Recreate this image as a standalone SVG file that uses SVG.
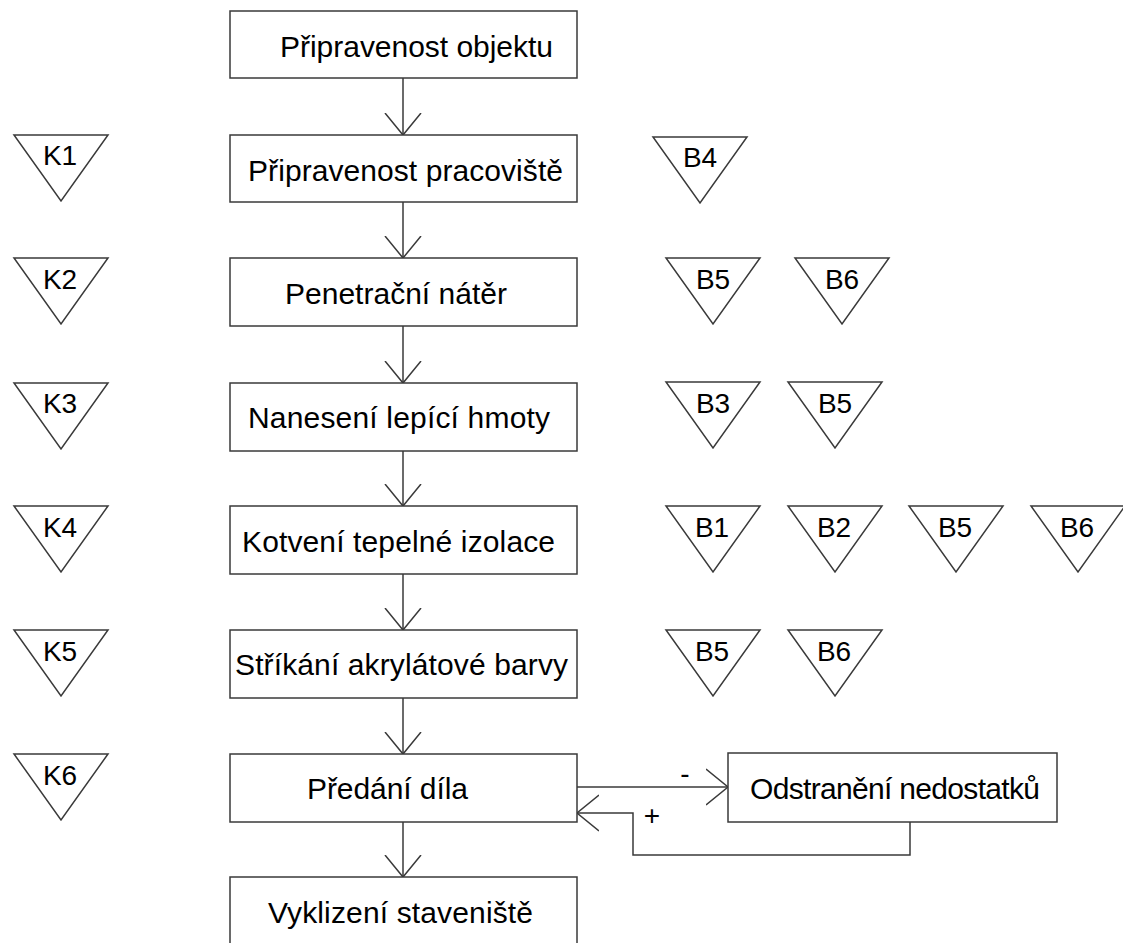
<svg xmlns="http://www.w3.org/2000/svg" width="1123" height="943" viewBox="0 0 1123 943">
  <style>
    .box { fill: #ffffff; stroke: #3a3a3a; stroke-width: 1.5; }
    .tri { fill: #ffffff; stroke: #3a3a3a; stroke-width: 1.5; stroke-linejoin: miter; }
    .lbl { font-family: "Liberation Sans", Arial, sans-serif; font-size: 30px; fill: #000000; text-anchor: middle; }
    .tag { font-family: "Liberation Sans", Arial, sans-serif; font-size: 28px; fill: #000000; text-anchor: middle; }
    .sign { font-family: "Liberation Sans", Arial, sans-serif; font-size: 28px; fill: #000000; text-anchor: middle; }
    .edge { fill: none; stroke: #3a3a3a; stroke-width: 1.5; }
  </style>
  <defs>
    <marker id="open" viewBox="-22 -20 24 40" markerWidth="24" markerHeight="40" refX="0" refY="0" orient="auto" markerUnits="userSpaceOnUse">
      <path d="M -22 -18 L 0 0 L -22 18" fill="none" stroke="#3a3a3a" stroke-width="1.5"/>
    </marker>
    <polygon id="triangle" points="0,0 94,0 47,66"/>
  </defs>

  <rect width="1123" height="943" fill="#ffffff"/>

  <!-- flow connectors -->
  <g id="connectors">
    <line class="edge" x1="403" y1="78" x2="403" y2="135" marker-end="url(#open)"/>
    <line class="edge" x1="403" y1="202" x2="403" y2="258" marker-end="url(#open)"/>
    <line class="edge" x1="403" y1="326" x2="403" y2="383" marker-end="url(#open)"/>
    <line class="edge" x1="403" y1="451" x2="403" y2="506" marker-end="url(#open)"/>
    <line class="edge" x1="403" y1="574" x2="403" y2="630" marker-end="url(#open)"/>
    <line class="edge" x1="403" y1="698" x2="403" y2="754" marker-end="url(#open)"/>
    <line class="edge" x1="403" y1="822" x2="403" y2="877" marker-end="url(#open)"/>
    <line class="edge" x1="577" y1="787" x2="728" y2="787" marker-end="url(#open)"/>
    <polyline class="edge" points="910,822 910,855 633,855 633,813 577,813" marker-end="url(#open)"/>
    <text class="sign" x="685" y="783">-</text>
    <text class="sign" x="652" y="825">+</text>
  </g>

  <!-- process steps -->
  <g id="n1"><rect class="box" x="230" y="11" width="347" height="67"/><text class="lbl" x="416.5" y="57" textLength="273">Připravenost objektu</text></g>
  <g id="n2"><rect class="box" x="230" y="135" width="347" height="67"/><text class="lbl" x="405.5" y="181" textLength="315">Připravenost pracoviště</text></g>
  <g id="n3"><rect class="box" x="230" y="258" width="347" height="68"/><text class="lbl" x="396" y="304" textLength="222">Penetrační nátěr</text></g>
  <g id="n4"><rect class="box" x="230" y="383" width="347" height="68"/><text class="lbl" x="399" y="428" textLength="302">Nanesení lepící hmoty</text></g>
  <g id="n5"><rect class="box" x="230" y="506" width="347" height="68"/><text class="lbl" x="398.5" y="552" textLength="313">Kotvení tepelné izolace</text></g>
  <g id="n6"><rect class="box" x="230" y="630" width="347" height="68"/><text class="lbl" x="401.5" y="675" textLength="333">Stříkání akrylátové barvy</text></g>
  <g id="n7"><rect class="box" x="230" y="754" width="347" height="68"/><text class="lbl" x="387.5" y="799" textLength="161">Předání díla</text></g>
  <g id="n8"><rect class="box" x="230" y="877" width="347" height="80"/><text class="lbl" x="400.5" y="923" textLength="265">Vyklizení staveniště</text></g>
  <g id="n9"><rect class="box" x="728" y="753" width="329" height="69"/><text class="lbl" x="895" y="799" textLength="290">Odstranění nedostatků</text></g>

  <!-- control points -->
  <g id="K1"><use href="#triangle" class="tri" x="14" y="135"/><text class="tag" x="60" y="165">K1</text></g>
  <g id="K2"><use href="#triangle" class="tri" x="14" y="258"/><text class="tag" x="60" y="289">K2</text></g>
  <g id="K3"><use href="#triangle" class="tri" x="14" y="383"/><text class="tag" x="60" y="413">K3</text></g>
  <g id="K4"><use href="#triangle" class="tri" x="14" y="506"/><text class="tag" x="60" y="537">K4</text></g>
  <g id="K5"><use href="#triangle" class="tri" x="14" y="630"/><text class="tag" x="60" y="661">K5</text></g>
  <g id="K6"><use href="#triangle" class="tri" x="14" y="754"/><text class="tag" x="60" y="785">K6</text></g>

  <!-- safety points -->
  <g id="B4-r2"><use href="#triangle" class="tri" x="653" y="137"/><text class="tag" x="700" y="167">B4</text></g>
  <g id="B5-r3"><use href="#triangle" class="tri" x="666" y="258"/><text class="tag" x="713" y="289">B5</text></g>
  <g id="B6-r3"><use href="#triangle" class="tri" x="795" y="258"/><text class="tag" x="842" y="289">B6</text></g>
  <g id="B3-r4"><use href="#triangle" class="tri" x="666" y="382"/><text class="tag" x="713" y="413">B3</text></g>
  <g id="B5-r4"><use href="#triangle" class="tri" x="788" y="382"/><text class="tag" x="835" y="413">B5</text></g>
  <g id="B1-r5"><use href="#triangle" class="tri" x="666" y="506"/><text class="tag" x="712" y="537">B1</text></g>
  <g id="B2-r5"><use href="#triangle" class="tri" x="788" y="506"/><text class="tag" x="834" y="537">B2</text></g>
  <g id="B5-r5"><use href="#triangle" class="tri" x="909" y="506"/><text class="tag" x="955" y="537">B5</text></g>
  <g id="B6-r5"><use href="#triangle" class="tri" x="1031" y="506"/><text class="tag" x="1077" y="537">B6</text></g>
  <g id="B5-r6"><use href="#triangle" class="tri" x="666" y="630"/><text class="tag" x="712" y="661">B5</text></g>
  <g id="B6-r6"><use href="#triangle" class="tri" x="788" y="630"/><text class="tag" x="834" y="661">B6</text></g>
</svg>
